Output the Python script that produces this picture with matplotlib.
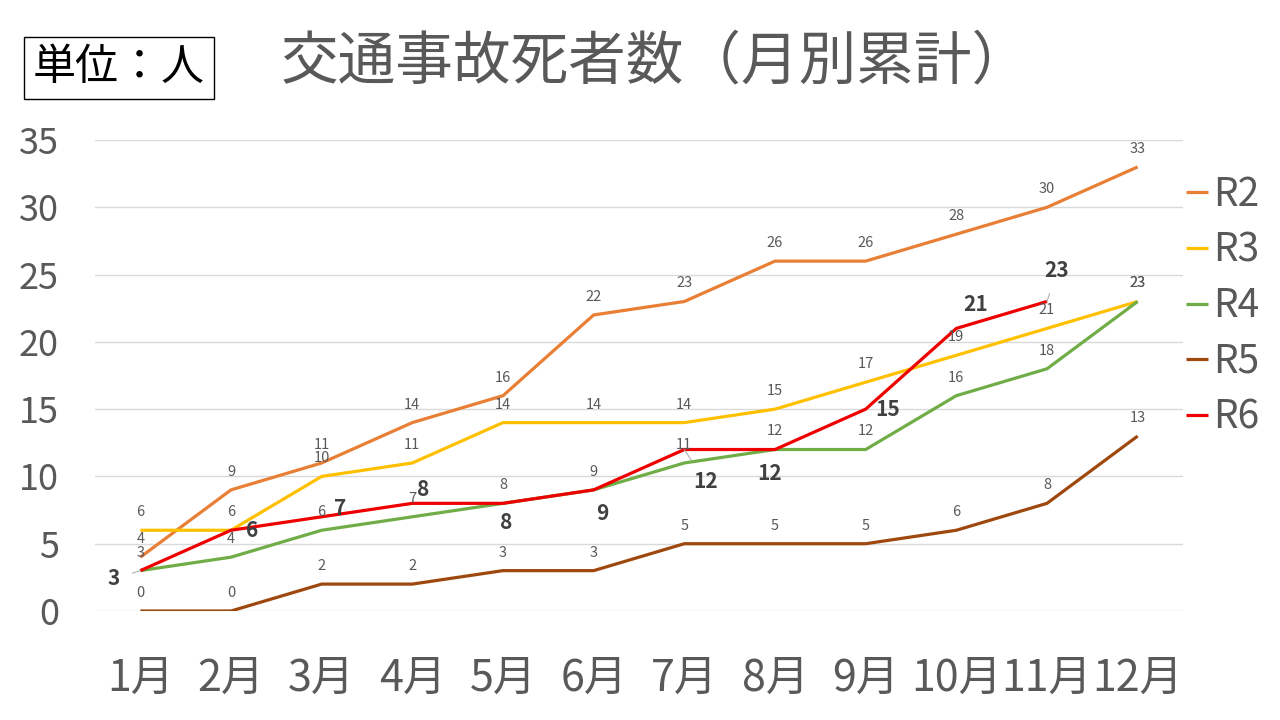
import matplotlib
matplotlib.use("Agg")
import matplotlib.pyplot as plt

plt.rcParams['font.family'] = ['Noto Sans CJK JP', 'DejaVu Sans']

months = ['1月', '2月', '3月', '4月', '5月', '6月', '7月', '8月', '9月', '10月', '11月', '12月']
r2 = [4, 9, 11, 14, 16, 22, 23, 26, 26, 28, 30, 33]
r3 = [6, 6, 10, 11, 14, 14, 14, 15, 17, 19, 21, 23]
r4 = [3, 4, 6, 7, 8, 9, 11, 12, 12, 16, 18, 23]
r5 = [0, 0, 2, 2, 3, 3, 5, 5, 5, 6, 8, 13]
r6 = [3, 6, 7, 8, 8, 9, 12, 12, 15, 21, 23]

series = [('R2', r2, '#E97E35'), ('R3', r3, '#FFC000'), ('R4', r4, '#70AD47'),
          ('R5', r5, '#9E480E'), ('R6', r6, '#EE0000')]

# label offsets for R6 (points), (dx, dy, leader line)
r6_offsets = [(-19, -6, True), (15, 0, False), (13, 6, False), (8, 10, False),
              (2, -14, False), (6, -17, False), (15, -23, True), (-4, -17, False),
              (16, 0, False), (14, 17, False), (7, 22, True)]

fig = plt.figure(figsize=(12.8, 7.2), dpi=100)
ax = fig.add_axes([95 / 1280, 1 - 611 / 720, (1183 - 95) / 1280, 471 / 720])

x = list(range(len(months)))
for name, vals, col in series:
    ax.plot(x[:len(vals)], vals, color=col, lw=2.3, label=name, solid_capstyle='butt')

for name, vals, col in series[:4]:
    for i, v in enumerate(vals):
        ax.annotate(str(v), (i, v), xytext=(0, 13), textcoords='offset points',
                    ha='center', va='center', fontsize=10.5, color='#595959')

for i, v in enumerate(r6):
    dx, dy, lead = r6_offsets[i]
    ax.annotate(str(v), (i, v), xytext=(dx, dy), textcoords='offset points',
                ha='center', va='center', fontsize=15, fontweight='bold', color='#404040',
                arrowprops=dict(arrowstyle='-', color='#A6A6A6', lw=0.7, shrinkA=7, shrinkB=0) if lead else None)

ax.set_xlim(-0.5, 11.5)
ax.set_ylim(0, 35)
ax.set_yticks(range(0, 36, 5))
ax.set_xticks(x)
ax.set_xticklabels(months)
ax.grid(axis='y', color='#D9D9D9', lw=1)
ax.set_axisbelow(True)
for s in ax.spines.values():
    s.set_visible(False)
ax.tick_params(length=0)
ax.tick_params(axis='y', labelsize=26, labelcolor='#595959', pad=26)
ax.tick_params(axis='x', labelsize=31, labelcolor='#595959', pad=33)

fig.legend(loc='upper left', bbox_to_anchor=(1186 / 1280, 1 - 175 / 720), frameon=False,
           fontsize=28, handlelength=0.56, handletextpad=0.15, labelspacing=0.40,
           borderpad=0, borderaxespad=0, labelcolor='#595959')

fig.text(655 / 1280, 1 - 62 / 720, '交通事故死者数（月別累計）', ha='center', va='center',
         fontsize=41.5, color='#595959')
fig.text(119 / 1280, 1 - 68 / 720, '単位：人', ha='center', va='center', fontsize=31,
         color='black', bbox=dict(boxstyle='square,pad=0.22', fc='white', ec='black', lw=1))

fig.savefig('out.png', dpi=100)
